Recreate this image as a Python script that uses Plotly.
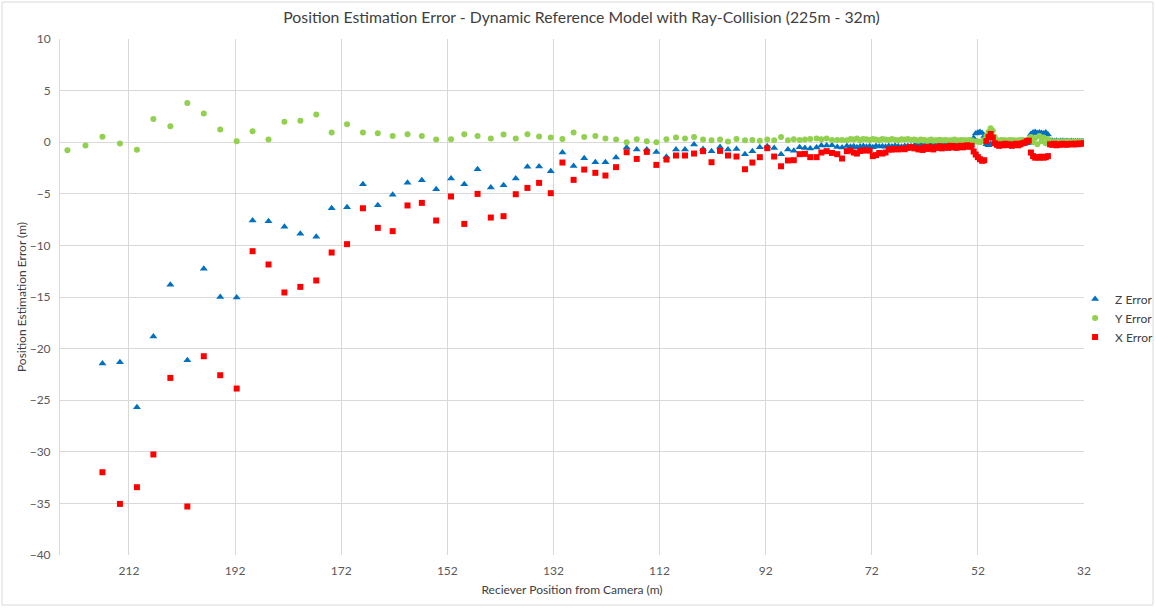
import plotly.graph_objects as go

# Receiver distance from camera (m), far to near
distance = [
    223.6, 220.2, 217.0, 213.7, 210.5, 207.4, 204.2, 201.0, 197.9, 194.8,
    191.7, 188.7, 185.7, 182.7, 179.7, 176.7, 173.8, 170.9, 167.9, 165.1,
    162.3, 159.5, 156.8, 154.1, 151.3, 148.8, 146.3, 143.8, 141.4, 139.1,
    136.9, 134.7, 132.5, 130.3, 128.2, 126.2, 124.1, 122.2, 120.2, 118.2,
    116.3, 114.4, 112.6, 110.7, 108.9, 107.2, 105.5, 103.8, 102.2, 100.6,
    99.1, 97.5, 95.9, 94.5, 93.1, 91.7, 90.4, 89.1, 87.8, 86.7,
    85.6, 84.6, 83.6, 82.4, 81.5, 80.5, 79.5, 78.5, 77.6, 76.7,
    76.0, 75.4, 74.8, 74.2, 73.6, 73.0, 72.4, 71.8, 71.2, 70.6,
    70.0, 69.4, 68.8, 68.2, 67.6, 67.0, 66.4, 65.8, 65.2, 64.6,
    64.0, 63.6, 63.2, 62.8, 62.4, 62.0, 61.6, 61.2, 60.8, 60.4,
    60.0, 59.6, 59.2, 58.8, 58.4, 58.0, 57.6, 57.2, 56.8, 56.4,
    56.0, 55.6, 55.2, 54.8, 54.4, 54.0, 53.6, 53.2, 52.8, 52.4,
    52.0, 51.6, 51.2, 50.8, 50.4, 50.0, 49.6, 49.2, 48.8, 48.4,
    48.0, 47.6, 47.2, 46.8, 46.4, 46.0, 45.6, 45.2, 44.8, 44.4,
    44.0, 43.6, 43.2, 42.8, 42.4, 42.0, 41.6, 41.2, 40.8, 40.4,
    40.0, 39.6, 39.2, 38.8, 38.4, 38.0, 37.6, 37.2, 36.8, 36.4,
    36.0, 35.6, 35.2, 34.8, 34.4, 34.0, 33.6, 33.2, 32.8, 32.4,
    32.0,
]

z_error = [
    None, None, -21.45, -21.32, -25.68, -18.83, -13.82, -21.12, -12.27, -14.99,
    -15.05, -7.59, -7.66, -8.20, -8.88, -9.17, -6.40, -6.30, -4.07, -6.10,
    -5.10, -3.94, -3.68, -4.55, -3.52, -4.07, -2.62, -4.39, -4.17, -3.52,
    -2.39, -2.35, -2.81, -1.00, -2.30, -1.55, -1.94, -1.94, -1.48, -0.51,
    -0.71, -0.71, -0.94, -1.42, -0.71, -0.71, -0.22, -0.65, -0.87, -0.46,
    -0.71, -0.65, -1.16, -0.87, -0.48, -0.39, -0.55, -1.16, -0.71, -0.84,
    -0.48, -0.55, -0.61, -0.51, -0.32, -0.32, -0.29, -0.46, -0.51, -0.36,
    -0.45, -0.40, -0.50, -0.42, -0.38, -0.45, -0.40, -0.48, -0.36, -0.42,
    -0.40, -0.45, -0.38, -0.42, -0.35, -0.40, -0.44, -0.38, -0.36, -0.40,
    -0.35, -0.30, -0.35, -0.25, -0.40, -0.30, -0.28, -0.35, -0.30, -0.25,
    -0.32, -0.38, -0.28, -0.30, -0.35, -0.25, -0.30, -0.33, -0.28, -0.30,
    -0.25, -0.32, -0.30, -0.28, -0.25, -0.30, -0.27, -0.25, 0.40, 0.85,
    0.95, 1.00, 0.90, 0.60, -0.20, -0.30, -0.15, -0.20, -0.15, -0.15,
    -0.20, -0.12, -0.18, -0.15, -0.10, -0.15, -0.12, -0.18, -0.10, -0.15,
    -0.12, -0.10, -0.15, -0.10, -0.10, 0.80, 0.95, 1.00, 0.90, 0.95,
    0.90, 0.85, 0.95, 0.75, 0.10, 0.15, 0.12, 0.15, 0.10, 0.12,
    0.15, 0.10, 0.12, 0.10, 0.12, 0.10, 0.08, 0.10, 0.08, 0.10,
    0.08,
]

y_error = [
    -0.78, -0.32, 0.52, -0.13, -0.74, 2.26, 1.55, 3.81, 2.78, 1.23,
    0.10, 1.07, 0.26, 1.97, 2.07, 2.68, 0.94, 1.74, 0.94, 0.87,
    0.61, 0.78, 0.61, 0.26, 0.29, 0.78, 0.61, 0.36, 0.75, 0.36,
    0.78, 0.55, 0.45, 0.32, 0.94, 0.51, 0.61, 0.36, 0.26, 0.00,
    0.29, 0.10, 0.00, 0.29, 0.46, 0.36, 0.51, 0.26, 0.19, 0.26,
    0.07, 0.32, 0.19, 0.22, 0.13, 0.26, 0.19, 0.51, 0.19, 0.29,
    0.22, 0.26, 0.32, 0.36, 0.29, 0.36, 0.22, 0.22, 0.22, 0.19,
    0.30, 0.25, 0.35, 0.20, 0.30, 0.28, 0.22, 0.30, 0.25, 0.18,
    0.30, 0.26, 0.22, 0.30, 0.24, 0.20, 0.28, 0.25, 0.30, 0.22,
    0.26, 0.20, 0.15, 0.25, 0.18, 0.22, 0.12, 0.20, 0.25, 0.15,
    0.20, 0.18, 0.24, 0.16, 0.20, 0.22, 0.15, 0.20, 0.18, 0.25,
    0.20, 0.15, 0.22, 0.18, 0.20, 0.16, 0.22, 0.18, 0.10, 0.05,
    0.10, 0.00, 0.10, 0.20, 0.60, 1.00, 1.35, 1.10, 0.50, 0.20,
    0.15, 0.22, 0.18, 0.20, 0.15, 0.22, 0.18, 0.20, 0.15, 0.20,
    0.18, 0.22, 0.15, 0.20, 0.30, 0.50, 0.00, 0.40, -0.20, 0.60,
    0.10, 0.45, -0.10, 0.30, 0.08, 0.05, 0.10, 0.05, 0.08, 0.05,
    0.10, 0.06, 0.05, 0.08, 0.05, 0.06, 0.08, 0.05, 0.06, 0.05,
    0.05,
]

x_error = [
    None, None, -31.98, -35.05, -33.43, -30.26, -22.84, -35.30, -20.74, -22.58,
    -23.87, -10.56, -11.85, -14.56, -14.02, -13.40, -10.69, -9.88, -6.40, -8.30,
    -8.62, -6.13, -5.88, -7.59, -5.26, -7.92, -5.01, -7.30, -7.17, -5.04,
    -4.43, -3.94, -4.94, -1.97, -3.65, -2.65, -2.97, -3.23, -2.42, -0.97,
    -1.62, -0.94, -2.20, -1.68, -1.29, -1.29, -1.10, -0.87, -1.94, -0.84,
    -1.29, -1.39, -2.62, -1.97, -1.45, -0.58, -1.39, -2.33, -1.77, -1.74,
    -1.16, -1.13, -1.45, -1.45, -1.00, -0.87, -1.04, -1.16, -1.58, -0.87,
    -0.80, -1.00, -1.10, -0.85, -0.80, -0.78, -0.82, -1.35, -1.25, -1.05,
    -1.10, -1.00, -0.70, -0.72, -0.65, -0.70, -0.62, -0.68, -0.55, -0.48,
    -0.60, -0.55, -0.70, -0.60, -0.75, -0.50, -0.65, -0.45, -0.60, -0.70,
    -0.50, -0.55, -0.40, -0.60, -0.50, -0.45, -0.55, -0.35, -0.50, -0.40,
    -0.55, -0.45, -0.35, -0.50, -0.40, -0.30, -0.45, -0.35, -0.90, -1.20,
    -1.45, -1.65, -1.80, -1.75, 0.10, 0.50, 0.80, 0.45, -0.10, -0.25,
    -0.35, -0.20, -0.30, -0.15, -0.28, -0.20, -0.35, -0.25, -0.15, -0.30,
    -0.20, -0.10, -0.05, 0.10, 0.15, -1.00, -1.35, -1.50, -1.45, -1.50,
    -1.40, -1.50, -1.45, -1.35, -0.20, -0.25, -0.15, -0.30, -0.20, -0.25,
    -0.15, -0.20, -0.25, -0.18, -0.15, -0.22, -0.15, -0.20, -0.12, -0.15,
    -0.10,
]

x_ticks = [212, 192, 172, 152, 132, 112, 92, 72, 52, 32]

FONT = "Lato"
TEXT = "#595959"
GRID = "#D9D9D9"

fig = go.Figure()

# Z, Y, X in the legend order (X drawn on top)
fig.add_trace(go.Scatter(
    x=distance, y=z_error, mode="markers", name="Z Error",
    marker=dict(symbol="triangle-up", size=7, color="#0070C0")
))
fig.add_trace(go.Scatter(
    x=distance, y=y_error, mode="markers", name="Y Error",
    marker=dict(symbol="circle", size=6, color="#92D050")
))
fig.add_trace(go.Scatter(
    x=distance, y=x_error, mode="markers", name="X Error",
    marker=dict(symbol="square", size=6, color="#FF0000")
))

fig.update_layout(
    width=1156,
    height=608,
    margin=dict(l=60, r=72, t=39, b=53, autoexpand=False),
    plot_bgcolor="white",
    paper_bgcolor="white",
    font=dict(family=FONT, size=12, color=TEXT),
    title=dict(
        text="Position Estimation Error - Dynamic Reference Model with Ray-Collision (225m - 32m)",
        x=0.503, xref="container", xanchor="center",
        y=0.972, yref="container", yanchor="middle",
        font=dict(family=FONT, size=15.8, color="#404040"),
    ),
    xaxis=dict(
        range=[225, 32],
        tickvals=x_ticks,
        showgrid=True, gridcolor=GRID, gridwidth=1,
        zeroline=False, showline=False,
        tickfont=dict(size=12, color=TEXT),
        ticklabelstandoff=7,
        title=dict(text="Reciever Position from Camera (m)", font=dict(size=12, color="#404040"), standoff=8),
    ),
    yaxis=dict(
        range=[-40, 10],
        dtick=5,
        showgrid=True, gridcolor=GRID, gridwidth=1,
        zeroline=False, showline=True, linecolor=GRID,
        tickfont=dict(size=12, color=TEXT),
        ticklabelstandoff=6,
        title=dict(text="Position Estimation Error (m)", font=dict(size=12, color="#404040"), standoff=0),
    ),
    legend=dict(
        x=0.93, xref="container", y=0.477, yref="container",
        xanchor="left", yanchor="middle",
        font=dict(size=12, color="#404040"),
        bgcolor="rgba(0,0,0,0)",
    ),
    shapes=[dict(
        type="rect", xref="paper", yref="paper",
        x0=-0.0566, x1=1.0674, y0=-0.0969, y1=1.0717,
        line=dict(color=GRID, width=1), layer="below",
    )],
)

# drop the default page margin so the figure sits at the window corner
fig.write_html(
    "out.html",
    config={"displayModeBar": False},
    post_script="document.body.style.margin='0';",
)
